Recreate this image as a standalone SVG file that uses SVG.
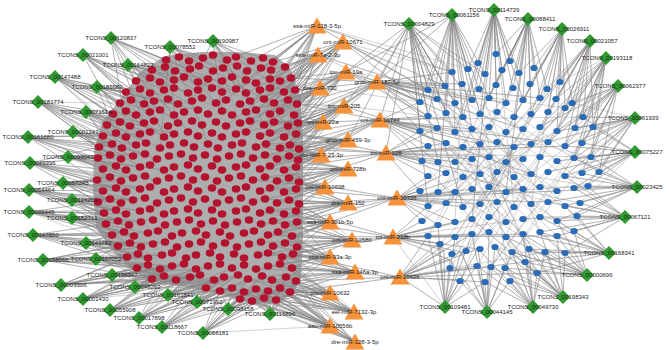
<svg xmlns="http://www.w3.org/2000/svg" xmlns:xlink="http://www.w3.org/1999/xlink" width="669" height="350" viewBox="0 0 669 350">
<style>
.e{fill:none;stroke:#858585;stroke-width:.5;stroke-linejoin:round;opacity:.75}
.l{font-family:"Liberation Sans",Arial,sans-serif;font-size:6px;fill:#222;text-anchor:middle}
</style>
<defs>
<polygon id="dm" points="0,-7 7,0 0,7 -7,0" fill="#2f9a2f"/>
<polygon id="tr" points="0,-8.5 9.5,7.5 -9.5,7.5" fill="#f6923b"/>
<ellipse id="rc" rx="4.3" ry="3.7" fill="#b3132e"/>
<ellipse id="bc" rx="3.7" ry="3.1" fill="#2b6cb6"/>
</defs>
<rect width="669" height="350" fill="#fff"/>
<path d="M120 100L140 72 165 56 200 52 240 52 275 55 290 68 300 95 303 140 303 190 303 240 301 278 292 296 265 304 238 300 212 292 180 286 152 282 132 270 112 250 96 228 93 190 94 150 102 122Z" fill="#adadad"/>
<g id="connectors">
<path class="e" d="M111 38L166 60 111 38 190 69 111 38 150 93 111 38 175 85 111 38 212 88 111 38 144 123 111 38 188 132 111 38 236 89 111 38 170 145 111 38 230 112 111 38 130 150 111 38 250 101"/>
<path class="e" d="M170 47L179 57 170 47 203 58 170 47 213 71 170 47 237 66 170 47 198 90 170 47 246 80 170 47 174 115 170 47 222 111 170 47 264 99 170 47 160 148 170 47 208 144 170 47 284 92"/>
<path class="e" d="M213 41L227 60 213 41 251 61 213 41 273 62 213 41 261 68 213 41 236 89 213 41 199 66 213 41 284 92 213 41 256 110 213 41 288 126 213 41 222 111 213 41 270 133 213 41 246 143"/>
<path class="e" d="M83 55L136 81 83 55 150 78 83 55 164 90 83 55 126 92 83 55 131 100 83 55 168 99 83 55 144 104 83 55 178 123 83 55 154 121 83 55 202 98 83 55 120 122 83 55 192 132"/>
<path class="e" d="M128 65L152 70 128 65 165 67 128 65 174 80 128 65 188 93 128 65 160 82 128 65 212 88 128 65 222 81 128 65 150 112 128 65 198 110 128 65 174 115 128 65 246 93 128 65 232 115"/>
<path class="e" d="M55 77L120 103 55 77 126 92 55 77 131 100 55 77 113 114 55 77 136 115 55 77 107 125 55 77 130 126 55 77 150 112 55 77 140 134 55 77 164 137 55 77 174 104 55 77 126 137"/>
<path class="e" d="M97 87L126 92 97 87 140 89 97 87 120 103 97 87 144 104 97 87 160 110 97 87 126 111 97 87 150 132 97 87 178 104 97 87 198 110 97 87 164 137 97 87 116 133 97 87 188 143"/>
<path class="e" d="M38 102L107 125 38 102 113 114 38 102 120 122 38 102 103 136 38 102 112 144 38 102 126 137 38 102 99 147 38 102 136 145 38 102 150 132 38 102 110 155 38 102 140 167 38 102 120 103"/>
<path class="e" d="M86 112L103 136 86 112 107 125 86 112 116 133 86 112 120 122 86 112 130 126 86 112 144 123 86 112 112 144 86 112 146 143 86 112 160 148 86 112 126 148 86 112 174 134 86 112 136 115"/>
<path class="e" d="M28 137L99 147 28 137 103 136 28 137 98 158 28 137 110 155 28 137 112 144 28 137 103 169 28 137 116 166 28 137 122 148 28 137 97 180 28 137 133 156 28 137 140 134 28 137 126 170"/>
<path class="e" d="M73 132L99 147 73 132 103 136 73 132 112 144 73 132 122 148 73 132 110 155 73 132 121 159 73 132 126 137 73 132 136 145 73 132 133 156 73 132 145 154 73 132 157 159 73 132 116 166"/>
<path class="e" d="M68 157L98 158 68 157 110 155 68 157 103 169 68 157 116 166 68 157 126 170 68 157 121 159 68 157 133 178 68 157 140 167 68 157 145 154 68 157 157 181 68 157 164 170 68 157 110 177"/>
<path class="e" d="M30 163L98 158 30 163 103 169 30 163 97 180 30 163 110 177 30 163 103 191 30 163 121 181 30 163 116 188 30 163 112 144 30 163 126 192 30 163 98 202 30 163 133 178 30 163 140 189"/>
<path class="e" d="M63 183L97 180 63 183 110 177 63 183 103 191 63 183 116 188 63 183 121 181 63 183 98 202 63 183 110 199 63 183 126 192 63 183 133 200 63 183 140 189 63 183 150 187 63 183 121 203"/>
<path class="e" d="M29 190L97 180 29 190 103 191 29 190 98 202 29 190 110 199 29 190 104 213 29 190 116 210 29 190 121 203 29 190 106 224 29 190 126 214 29 190 133 200 29 190 118 221 29 190 110 177"/>
<path class="e" d="M72 200L98 202 72 200 104 213 72 200 110 199 72 200 116 210 72 200 121 203 72 200 126 214 72 200 106 224 72 200 118 221 72 200 133 200 72 200 140 211 72 200 145 198 72 200 129 225"/>
<path class="e" d="M29 212L104 213 29 212 106 224 29 212 116 210 29 212 112 235 29 212 118 221 29 212 124 232 29 212 98 202 29 212 129 225 29 212 134 236 29 212 126 214 29 212 141 222 29 212 118 246"/>
<path class="e" d="M72 218L104 213 72 218 106 224 72 218 112 235 72 218 118 221 72 218 124 232 72 218 129 225 72 218 134 236 72 218 141 222 72 218 118 246 72 218 130 243 72 218 148 233 72 218 153 220"/>
<path class="e" d="M33 235L112 235 33 235 118 246 33 235 124 232 33 235 127 257 33 235 130 243 33 235 134 236 33 235 138 254 33 235 106 224 33 235 141 247 33 235 148 233 33 235 137 268 33 235 153 244"/>
<path class="e" d="M86 243L112 235 86 243 118 246 86 243 124 232 86 243 127 257 86 243 130 243 86 243 138 254 86 243 141 247 86 243 148 258 86 243 153 244 86 243 137 268 86 243 165 242 86 243 162 255"/>
<path class="e" d="M43 260L118 246 43 260 127 257 43 260 130 243 43 260 137 268 43 260 138 254 43 260 148 265 43 260 141 247 43 260 148 258 43 260 160 269 43 260 152 279 43 260 162 255 43 260 172 266"/>
<path class="e" d="M96 259L118 246 96 259 127 257 96 259 138 254 96 259 137 268 96 259 148 265 96 259 148 258 96 259 160 269 96 259 152 279 96 259 162 255 96 259 172 266 96 259 164 276 96 259 176 280"/>
<path class="e" d="M112 275L137 268 112 275 148 265 112 275 152 279 112 275 160 269 112 275 164 276 112 275 172 266 112 275 176 280 112 275 184 264 112 275 190 277 112 275 196 269 112 275 200 275 112 275 162 255"/>
<path class="e" d="M61 285L137 268 61 285 148 265 61 285 152 279 61 285 160 269 61 285 164 276 61 285 176 280 61 285 172 266 61 285 190 277 61 285 184 264 61 285 127 257 61 285 138 254 61 285 200 275"/>
<path class="e" d="M135 287L152 279 135 287 164 276 135 287 176 280 135 287 190 277 135 287 200 275 135 287 214 280 135 287 172 266 135 287 196 269 135 287 208 266 135 287 224 277 135 287 184 264 135 287 206 288"/>
<path class="e" d="M168 295L176 280 168 295 190 277 168 295 200 275 168 295 214 280 168 295 206 288 168 295 220 291 168 295 224 277 168 295 238 275 168 295 208 266 168 295 232 268 168 295 232 288 168 295 196 269"/>
<path class="e" d="M83 299L152 279 83 299 164 276 83 299 176 280 83 299 160 269 83 299 190 277 83 299 148 265 83 299 200 275 83 299 137 268 83 299 172 266 83 299 214 280 83 299 184 264 83 299 206 288"/>
<path class="e" d="M197 302L206 288 197 302 220 291 197 302 214 280 197 302 224 277 197 302 232 288 197 302 238 275 197 302 244 292 197 302 248 279 197 302 200 275 197 302 190 277 197 302 256 289 197 302 262 276"/>
<path class="e" d="M110 310L152 279 110 310 164 276 110 310 176 280 110 310 190 277 110 310 200 275 110 310 214 280 110 310 206 288 110 310 220 291 110 310 160 269 110 310 172 266 110 310 224 277 110 310 232 288"/>
<path class="e" d="M139 318L176 280 139 318 190 277 139 318 200 275 139 318 206 288 139 318 214 280 139 318 220 291 139 318 224 277 139 318 232 288 139 318 244 292 139 318 164 276 139 318 238 275 139 318 256 289"/>
<path class="e" d="M162 327L206 288 162 327 214 280 162 327 220 291 162 327 232 288 162 327 244 292 162 327 238 275 162 327 248 279 162 327 256 289 162 327 224 277 162 327 264 298 162 327 200 275 162 327 268 291"/>
<path class="e" d="M203 333L220 291 203 333 232 288 203 333 244 292 203 333 256 289 203 333 240 299 203 333 252 301 203 333 264 298 203 333 268 291 203 333 276 300 203 333 248 279 203 333 262 276 203 333 280 288 203 333 330 326"/>
<path class="e" d="M228 309L240 299 228 309 252 301 228 309 244 292 228 309 256 289 228 309 264 298 228 309 232 288 228 309 220 291 228 309 268 291 228 309 248 279 228 309 276 300 228 309 262 276 228 309 280 288"/>
<path class="e" d="M270 314L252 301 270 314 264 298 270 314 276 300 270 314 268 291 270 314 280 288 270 314 290 292 270 314 256 289 270 314 244 292 270 314 286 277 270 314 272 280 270 314 296 281 270 314 262 276"/>
<path class="e" d="M317 26L273 62 317 26 251 61 317 26 285 67 317 26 261 68 317 26 291 78 317 26 246 80 317 26 270 88 317 26 295 90 317 26 236 89 317 26 264 99 317 26 288 100 317 26 226 100 317 26 274 103 317 26 246 112 317 26 280 111 317 26 227 60 317 26 452 72 317 26 428 90 317 26 468 69"/>
<path class="e" d="M343 42L273 62 343 42 285 67 343 42 291 78 343 42 270 79 343 42 295 90 343 42 284 92 343 42 297 104 343 42 288 100 343 42 264 99 343 42 280 111 343 42 294 115 343 42 270 114 343 42 256 110 343 42 246 93 343 42 298 123 343 42 240 123 343 42 428 90 343 42 445 86 343 42 420 102 343 42 452 72"/>
<path class="e" d="M318 55L285 67 318 55 271 70 318 55 280 81 318 55 291 78 318 55 284 92 318 55 295 90 318 55 274 103 318 55 297 104 318 55 264 99 318 55 280 111 318 55 288 126 318 55 260 115 318 55 250 101 318 55 236 89 318 55 246 132 318 55 226 126 318 55 428 90 318 55 420 102"/>
<path class="e" d="M346 72L291 78 346 72 295 90 346 72 297 104 346 72 294 115 346 72 298 123 346 72 288 126 346 72 296 134 346 72 284 137 346 72 270 114 346 72 280 111 346 72 260 125 346 72 250 121 346 72 240 104 346 72 274 103 346 72 284 148 346 72 264 125 346 72 420 102 346 72 428 116 346 72 437 99 346 72 445 86"/>
<path class="e" d="M320 88L295 90 320 88 297 104 320 88 294 115 320 88 288 100 320 88 298 123 320 88 284 92 320 88 280 111 320 88 270 114 320 88 274 122 320 88 264 125 320 88 288 126 320 88 256 110 320 88 246 112 320 88 260 136 320 88 240 123 320 88 283 137 320 88 420 102"/>
<path class="e" d="M377 82L297 104 377 82 298 123 377 82 296 134 377 82 294 115 377 82 295 90 377 82 291 78 377 82 299 149 377 82 290 145 377 82 280 148 377 82 270 133 377 82 428 90 377 82 445 86 377 82 420 102 377 82 437 99 377 82 428 116 377 82 455 103 377 82 420 131 377 82 462 84 377 82 472 100 377 82 446 113 377 82 437 128 377 82 452 72 377 82 506 103 377 82 540 98 377 82 523 129 377 82 565 108"/>
<path class="e" d="M344 106L298 123 344 106 296 134 344 106 299 149 344 106 290 145 344 106 294 115 344 106 297 104 344 106 288 126 344 106 284 137 344 106 280 148 344 106 270 133 344 106 266 144 344 106 298 160 344 106 289 156 344 106 260 136 344 106 256 147 344 106 246 132 344 106 420 131 344 106 428 116"/>
<path class="e" d="M380 120L298 123 380 120 296 134 380 120 299 149 380 120 298 160 380 120 290 145 380 120 297 104 380 120 289 156 380 120 296 167 380 120 420 131 380 120 428 116 380 120 437 128 380 120 420 102 380 120 446 143 380 120 428 146 380 120 455 132 380 120 463 117 380 120 438 162 380 120 472 129 380 120 422 161 380 120 480 144 380 120 514 147 380 120 548 142 380 120 531 174 380 120 583 117"/>
<path class="e" d="M323 122L298 123 323 122 296 134 323 122 288 126 323 122 294 115 323 122 284 137 323 122 290 145 323 122 299 149 323 122 274 122 323 122 270 133 323 122 280 148 323 122 264 125 323 122 260 136 323 122 298 160 323 122 289 156 323 122 250 121 323 122 240 123"/>
<path class="e" d="M348 140L296 134 348 140 299 149 348 140 298 160 348 140 290 145 348 140 289 156 348 140 296 167 348 140 299 182 348 140 284 137 348 140 280 148 348 140 277 159 348 140 284 170 348 140 270 133 348 140 266 144 348 140 265 155 348 140 260 169 348 140 289 178"/>
<path class="e" d="M321 155L299 149 321 155 298 160 321 155 290 145 321 155 289 156 321 155 296 167 321 155 280 148 321 155 277 159 321 155 284 170 321 155 266 144 321 155 265 155 321 155 299 182 321 155 270 166 321 155 289 178 321 155 256 147 321 155 253 158 321 155 260 169"/>
<path class="e" d="M386 153L299 149 386 153 298 160 386 153 296 167 386 153 299 182 386 153 290 145 386 153 296 134 386 153 420 131 386 153 428 146 386 153 422 161 386 153 438 162 386 153 437 128 386 153 446 143 386 153 428 176 386 153 455 162 386 153 420 191 386 153 463 147 386 153 472 159 386 153 446 173 386 153 489 157 386 153 480 174 386 153 531 144 386 153 565 146 386 153 591 157"/>
<path class="e" d="M348 169L298 160 348 169 296 167 348 169 299 182 348 169 296 189 348 169 289 178 348 169 284 170 348 169 289 156 348 169 299 204 348 169 289 200 348 169 277 181 348 169 277 159 348 169 270 188 348 169 265 177 348 169 284 192 348 169 260 169 348 169 253 180"/>
<path class="e" d="M325 187L299 182 325 187 296 189 325 187 289 178 325 187 284 192 325 187 299 204 325 187 289 200 325 187 296 167 325 187 277 181 325 187 270 188 325 187 277 203 325 187 296 211 325 187 265 199 325 187 284 170 325 187 260 191 325 187 253 180 325 187 265 177"/>
<path class="e" d="M348 203L299 204 348 203 296 211 348 203 289 200 348 203 296 189 348 203 299 182 348 203 297 222 348 203 284 214 348 203 285 225 348 203 277 203 348 203 270 210 348 203 284 192 348 203 273 221 348 203 260 213 348 203 265 199 348 203 289 178 348 203 261 224"/>
<path class="e" d="M397 198L299 204 397 198 296 211 397 198 299 182 397 198 296 189 397 198 297 222 397 198 292 236 397 198 420 191 397 198 428 176 397 198 438 192 397 198 428 206 397 198 422 221 397 198 446 203 397 198 455 192 397 198 446 173 397 198 463 207 397 198 438 225 397 198 472 189 397 198 455 222 397 198 480 204 397 198 463 177 397 198 523 189 397 198 557 191 397 198 548 202 397 198 587 186"/>
<path class="e" d="M330 222L297 222 330 222 296 211 330 222 299 204 330 222 292 236 330 222 285 225 330 222 284 214 330 222 297 247 330 222 278 232 330 222 273 221 330 222 270 210 330 222 285 243 330 222 268 235 330 222 289 200 330 222 261 224 330 222 273 246 330 222 260 213"/>
<path class="e" d="M352 240L297 247 352 240 292 236 352 240 297 222 352 240 285 243 352 240 293 254 352 240 296 211 352 240 278 232 352 240 282 257 352 240 273 246 352 240 268 235 352 240 285 225 352 240 292 268 352 240 261 242 352 240 258 255 352 240 273 221 352 240 296 189"/>
<path class="e" d="M393 237L297 247 393 237 292 236 393 237 297 222 393 237 293 254 393 237 296 211 393 237 428 236 393 237 438 243 393 237 422 221 393 237 438 225 393 237 455 237 393 237 444 250 393 237 455 222 393 237 461 252 393 237 472 234 393 237 450 260 393 237 428 206 393 237 472 219 393 237 478 249 393 237 523 234 393 237 557 236 393 237 540 217"/>
<path class="e" d="M330 257L293 254 330 257 297 247 330 257 292 268 330 257 282 257 330 257 285 243 330 257 296 281 330 257 292 236 330 257 280 264 330 257 268 266 330 257 273 246 330 257 286 277 330 257 258 255 330 257 268 253 330 257 278 232 330 257 297 222 330 257 256 269"/>
<path class="e" d="M355 272L292 268 355 272 296 281 355 272 293 254 355 272 286 277 355 272 297 247 355 272 282 257 355 272 290 292 355 272 280 264 355 272 272 280 355 272 280 288 355 272 268 266 355 272 285 243 355 272 262 276 355 272 268 253 355 272 256 269 355 272 292 236"/>
<path class="e" d="M400 277L296 281 400 277 292 268 400 277 290 292 400 277 293 254 400 277 428 236 400 277 438 243 400 277 444 250 400 277 450 260 400 277 461 252 400 277 460 280 400 277 477 266 400 277 478 249 400 277 485 282 400 277 490 267 400 277 455 237 400 277 472 234 400 277 537 273 400 277 525 262 400 277 545 252"/>
<path class="e" d="M330 293L290 292 330 293 296 281 330 293 280 288 330 293 286 277 330 293 292 268 330 293 276 300 330 293 272 280 330 293 268 291 330 293 264 298 330 293 280 264 330 293 262 276 330 293 256 289 330 293 282 257 330 293 248 279 330 293 244 292 330 293 293 254"/>
<path class="e" d="M354 312L290 292 354 312 296 281 354 312 280 288 354 312 276 300 354 312 286 277 354 312 268 291 354 312 264 298 354 312 292 268 354 312 272 280 354 312 256 289 354 312 262 276 354 312 252 301 354 312 244 292 354 312 280 264 354 312 248 279 354 312 293 254"/>
<path class="e" d="M330 326L276 300 330 326 290 292 330 326 264 298 330 326 280 288 330 326 252 301 330 326 268 291 330 326 296 281 330 326 256 289 330 326 240 299 330 326 244 292 330 326 272 280 330 326 286 277 330 326 232 288 330 326 262 276 330 326 220 291 330 326 248 279"/>
<path class="e" d="M355 342L276 300 355 342 290 292 355 342 264 298 355 342 280 288 355 342 252 301 355 342 268 291 355 342 296 281 355 342 256 289 355 342 240 299 355 342 286 277 355 342 272 280 355 342 244 292"/>
<path class="e" d="M409 24L377 82 409 24 346 72 409 24 344 106 409 24 380 120 409 24 348 140 409 24 386 153 409 24 428 90 409 24 445 86 409 24 452 72 409 24 468 69 409 24 420 102 409 24 437 99 409 24 455 103 409 24 428 116 409 24 446 113 409 24 463 117 409 24 420 131 409 24 472 100 409 24 485 74 409 24 438 162 409 24 455 132 409 24 428 206 409 24 463 207 409 24 489 187"/>
<path class="e" d="M452 15L452 72 452 15 468 69 452 15 485 74 452 15 445 86 452 15 462 84 452 15 479 89 452 15 428 90 452 15 437 99 452 15 455 103 452 15 472 100 452 15 489 98 452 15 446 113 452 15 463 117 452 15 480 114 452 15 428 116 452 15 455 132 452 15 472 129 452 15 420 102 452 15 377 82 452 15 346 72 452 15 438 192 452 15 497 172"/>
<path class="e" d="M494 10L478 63 494 10 496 54 494 10 510 61 494 10 468 69 494 10 485 74 494 10 502 70 494 10 519 73 494 10 479 89 494 10 496 85 494 10 513 88 494 10 472 100 494 10 489 98 494 10 506 103 494 10 480 114 494 10 497 112 494 10 463 117 494 10 523 100 494 10 455 132 494 10 472 219 494 10 514 207"/>
<path class="e" d="M528 19L510 61 528 19 496 54 528 19 519 73 528 19 534 68 528 19 502 70 528 19 513 88 528 19 530 84 528 19 547 89 528 19 496 85 528 19 506 103 528 19 523 100 528 19 540 98 528 19 514 117 528 19 489 98 528 19 531 114 528 19 480 114 528 19 506 192 528 19 455 162"/>
<path class="e" d="M562 29L534 68 562 29 519 73 562 29 530 84 562 29 547 89 562 29 560 82 562 29 540 98 562 29 556 99 562 29 572 103 562 29 523 100 562 29 548 112 562 29 565 108 562 29 531 114 562 29 514 117 562 29 557 131 562 29 506 132 562 29 531 204"/>
<path class="e" d="M590 41L560 82 590 41 547 89 590 41 556 99 590 41 572 103 590 41 565 108 590 41 583 117 590 41 548 112 590 41 575 128 590 41 557 131 590 41 593 127 590 41 540 127 590 41 531 114 590 41 523 129 590 41 565 146 590 41 514 177"/>
<path class="e" d="M606 58L572 103 606 58 583 117 606 58 565 108 606 58 593 127 606 58 575 128 606 58 556 99 606 58 557 131 606 58 582 143 606 58 565 146 606 58 548 142 606 58 540 127 606 58 591 157 606 58 574 158 606 58 560 82"/>
<path class="e" d="M618 86L583 117 618 86 593 127 618 86 575 128 618 86 572 103 618 86 582 143 618 86 565 146 618 86 591 157 618 86 574 158 618 86 557 131 618 86 599 172 618 86 582 173 618 86 548 142 618 86 540 127 618 86 565 108"/>
<path class="e" d="M635 118L593 127 635 118 583 117 635 118 575 128 635 118 582 143 635 118 591 157 635 118 574 158 635 118 599 172 635 118 565 146 635 118 582 173 635 118 557 131 635 118 587 186 635 118 565 176 635 118 548 142 635 118 572 103"/>
<path class="e" d="M635 152L591 157 635 152 599 172 635 152 582 143 635 152 574 158 635 152 582 173 635 152 593 127 635 152 587 186 635 152 565 146 635 152 565 176 635 152 557 161 635 152 574 188 635 152 548 172 635 152 583 117 635 152 580 203"/>
<path class="e" d="M637 187L587 186 637 187 599 172 637 187 574 188 637 187 582 173 637 187 580 203 637 187 591 157 637 187 565 176 637 187 565 206 637 187 557 191 637 187 577 216 637 187 548 202 637 187 557 221 637 187 574 158 637 187 540 187"/>
<path class="e" d="M625 217L577 216 625 217 580 203 625 217 587 186 625 217 574 188 625 217 565 206 625 217 557 221 625 217 574 231 625 217 557 236 625 217 548 202 625 217 565 176 625 217 540 217 625 217 540 232 625 217 565 253 625 217 523 219"/>
<path class="e" d="M609 253L574 231 609 253 565 253 609 253 577 216 609 253 557 236 609 253 545 252 609 253 557 221 609 253 540 232 609 253 529 249 609 253 565 206 609 253 540 217 609 253 523 234 609 253 537 273 609 253 525 262 609 253 512 252"/>
<path class="e" d="M587 275L565 253 587 275 545 252 587 275 574 231 587 275 537 273 587 275 557 236 587 275 529 249 587 275 525 262 587 275 540 232 587 275 512 252 587 275 523 234 587 275 505 268 587 275 506 237 587 275 557 221 587 275 495 247"/>
<path class="e" d="M563 297L537 273 563 297 545 252 563 297 525 262 563 297 529 249 563 297 565 253 563 297 512 252 563 297 505 268 563 297 510 281 563 297 540 232 563 297 495 247 563 297 523 234 563 297 490 267 563 297 557 236 563 297 506 237 563 297 472 219 563 297 455 192"/>
<path class="e" d="M533 307L510 281 533 307 525 262 533 307 505 268 533 307 537 273 533 307 512 252 533 307 529 249 533 307 490 267 533 307 495 247 533 307 485 282 533 307 545 252 533 307 477 266 533 307 523 234 533 307 478 249 533 307 506 237"/>
<path class="e" d="M487 312L485 282 487 312 490 267 487 312 477 266 487 312 460 280 487 312 505 268 487 312 478 249 487 312 495 247 487 312 510 281 487 312 461 252 487 312 450 260 487 312 512 252 487 312 472 234 487 312 489 232 487 312 455 237"/>
<path class="e" d="M445 307L450 260 445 307 460 280 445 307 444 250 445 307 461 252 445 307 438 243 445 307 477 266 445 307 428 236 445 307 455 237 445 307 478 249 445 307 485 282 445 307 472 234 445 307 438 225 445 307 400 277 445 307 393 237"/>
<path class="e" d="M428 90L523 189M445 86L565 206M462 84L455 222M479 89L540 232M513 88L438 225M547 89L472 234M420 102L577 216M437 99L506 237M472 100L599 172M506 103L428 206M540 98L446 203M572 103L463 207M428 116L591 157M463 117L529 249M497 112L422 221M531 114L455 237M565 108L480 204M583 117L438 192M420 131L574 231M455 132L557 221M489 127L428 236M523 129L450 268M557 131L477 266M593 127L491 267M446 143L565 253M480 144L537 273M514 147L460 281M548 142L485 282M582 143L505 268M422 161L548 202M455 162L587 186M489 157L510 281M523 159L440 244M557 161L466 251M591 157L512 252M428 176L545 252M463 177L580 203M497 172L452 254M531 174L428 90M565 176L445 86M599 172L479 89M420 191L513 88M455 192L547 89M489 187L572 103M523 189L463 117M557 191L437 99M587 186L497 112M446 203L565 108M480 204L531 114M514 207L420 131M548 202L489 127M422 221L557 131M472 219L593 127M506 222L446 143M540 217L480 144M455 237L514 147M489 232L582 143M523 234L428 146M557 236L463 147M466 251L548 142M495 247L422 161M529 249L472 159M450 268L540 157M491 267L574 158M525 262L455 162"/>
</g>
<g id="targets-left">
<use href="#rc" x="166" y="60"/><use href="#rc" x="179" y="57"/><use href="#rc" x="189" y="61"/><use href="#rc" x="203" y="58"/><use href="#rc" x="213" y="55"/><use href="#rc" x="227" y="60"/><use href="#rc" x="236" y="57"/><use href="#rc" x="251" y="61"/><use href="#rc" x="263" y="58"/><use href="#rc" x="273" y="62"/>
<use href="#rc" x="152" y="70"/><use href="#rc" x="165" y="67"/><use href="#rc" x="175" y="71"/><use href="#rc" x="190" y="69"/><use href="#rc" x="199" y="66"/><use href="#rc" x="213" y="71"/><use href="#rc" x="223" y="68"/><use href="#rc" x="237" y="66"/><use href="#rc" x="247" y="71"/><use href="#rc" x="261" y="68"/><use href="#rc" x="271" y="70"/><use href="#rc" x="285" y="67"/>
<use href="#rc" x="136" y="81"/><use href="#rc" x="150" y="78"/><use href="#rc" x="160" y="82"/><use href="#rc" x="174" y="80"/><use href="#rc" x="184" y="77"/><use href="#rc" x="198" y="82"/><use href="#rc" x="208" y="79"/><use href="#rc" x="222" y="81"/><use href="#rc" x="232" y="77"/><use href="#rc" x="246" y="80"/><use href="#rc" x="256" y="83"/><use href="#rc" x="270" y="79"/><use href="#rc" x="280" y="81"/><use href="#rc" x="291" y="78"/>
<use href="#rc" x="126" y="92"/><use href="#rc" x="140" y="89"/><use href="#rc" x="150" y="93"/><use href="#rc" x="164" y="90"/><use href="#rc" x="174" y="88"/><use href="#rc" x="188" y="93"/><use href="#rc" x="198" y="90"/><use href="#rc" x="212" y="88"/><use href="#rc" x="222" y="92"/><use href="#rc" x="236" y="89"/><use href="#rc" x="246" y="93"/><use href="#rc" x="260" y="90"/><use href="#rc" x="270" y="88"/><use href="#rc" x="284" y="92"/><use href="#rc" x="295" y="90"/>
<use href="#rc" x="120" y="103"/><use href="#rc" x="131" y="100"/><use href="#rc" x="144" y="104"/><use href="#rc" x="154" y="101"/><use href="#rc" x="168" y="99"/><use href="#rc" x="178" y="104"/><use href="#rc" x="192" y="101"/><use href="#rc" x="202" y="98"/><use href="#rc" x="216" y="103"/><use href="#rc" x="226" y="100"/><use href="#rc" x="240" y="104"/><use href="#rc" x="250" y="101"/><use href="#rc" x="264" y="99"/><use href="#rc" x="274" y="103"/><use href="#rc" x="288" y="100"/><use href="#rc" x="297" y="104"/>
<use href="#rc" x="113" y="114"/><use href="#rc" x="126" y="111"/><use href="#rc" x="136" y="115"/><use href="#rc" x="150" y="112"/><use href="#rc" x="160" y="110"/><use href="#rc" x="174" y="115"/><use href="#rc" x="184" y="112"/><use href="#rc" x="198" y="110"/><use href="#rc" x="208" y="114"/><use href="#rc" x="222" y="111"/><use href="#rc" x="232" y="115"/><use href="#rc" x="246" y="112"/><use href="#rc" x="256" y="110"/><use href="#rc" x="270" y="114"/><use href="#rc" x="280" y="111"/><use href="#rc" x="294" y="115"/>
<use href="#rc" x="107" y="125"/><use href="#rc" x="120" y="122"/><use href="#rc" x="130" y="126"/><use href="#rc" x="144" y="123"/><use href="#rc" x="154" y="121"/><use href="#rc" x="168" y="126"/><use href="#rc" x="178" y="123"/><use href="#rc" x="192" y="121"/><use href="#rc" x="202" y="125"/><use href="#rc" x="216" y="122"/><use href="#rc" x="226" y="126"/><use href="#rc" x="240" y="123"/><use href="#rc" x="250" y="121"/><use href="#rc" x="264" y="125"/><use href="#rc" x="274" y="122"/><use href="#rc" x="288" y="126"/><use href="#rc" x="298" y="123"/>
<use href="#rc" x="103" y="136"/><use href="#rc" x="116" y="133"/><use href="#rc" x="126" y="137"/><use href="#rc" x="140" y="134"/><use href="#rc" x="150" y="132"/><use href="#rc" x="164" y="137"/><use href="#rc" x="174" y="134"/><use href="#rc" x="188" y="132"/><use href="#rc" x="198" y="136"/><use href="#rc" x="212" y="133"/><use href="#rc" x="222" y="137"/><use href="#rc" x="236" y="134"/><use href="#rc" x="246" y="132"/><use href="#rc" x="260" y="136"/><use href="#rc" x="270" y="133"/><use href="#rc" x="284" y="137"/><use href="#rc" x="296" y="134"/>
<use href="#rc" x="99" y="147"/><use href="#rc" x="112" y="144"/><use href="#rc" x="122" y="148"/><use href="#rc" x="136" y="145"/><use href="#rc" x="146" y="143"/><use href="#rc" x="160" y="148"/><use href="#rc" x="170" y="145"/><use href="#rc" x="184" y="143"/><use href="#rc" x="194" y="147"/><use href="#rc" x="208" y="144"/><use href="#rc" x="218" y="148"/><use href="#rc" x="232" y="145"/><use href="#rc" x="242" y="143"/><use href="#rc" x="256" y="147"/><use href="#rc" x="266" y="144"/><use href="#rc" x="280" y="148"/><use href="#rc" x="290" y="145"/><use href="#rc" x="299" y="149"/>
<use href="#rc" x="98" y="158"/><use href="#rc" x="110" y="155"/><use href="#rc" x="121" y="159"/><use href="#rc" x="133" y="156"/><use href="#rc" x="145" y="154"/><use href="#rc" x="157" y="159"/><use href="#rc" x="169" y="156"/><use href="#rc" x="181" y="154"/><use href="#rc" x="193" y="158"/><use href="#rc" x="205" y="155"/><use href="#rc" x="217" y="159"/><use href="#rc" x="229" y="156"/><use href="#rc" x="241" y="154"/><use href="#rc" x="253" y="158"/><use href="#rc" x="265" y="155"/><use href="#rc" x="277" y="159"/><use href="#rc" x="289" y="156"/><use href="#rc" x="298" y="160"/>
<use href="#rc" x="103" y="169"/><use href="#rc" x="116" y="166"/><use href="#rc" x="126" y="170"/><use href="#rc" x="140" y="167"/><use href="#rc" x="150" y="165"/><use href="#rc" x="164" y="170"/><use href="#rc" x="174" y="167"/><use href="#rc" x="188" y="165"/><use href="#rc" x="198" y="169"/><use href="#rc" x="212" y="166"/><use href="#rc" x="222" y="170"/><use href="#rc" x="236" y="167"/><use href="#rc" x="246" y="165"/><use href="#rc" x="260" y="169"/><use href="#rc" x="270" y="166"/><use href="#rc" x="284" y="170"/><use href="#rc" x="296" y="167"/>
<use href="#rc" x="97" y="180"/><use href="#rc" x="110" y="177"/><use href="#rc" x="121" y="181"/><use href="#rc" x="133" y="178"/><use href="#rc" x="145" y="176"/><use href="#rc" x="157" y="181"/><use href="#rc" x="169" y="178"/><use href="#rc" x="181" y="176"/><use href="#rc" x="193" y="180"/><use href="#rc" x="205" y="177"/><use href="#rc" x="217" y="181"/><use href="#rc" x="229" y="178"/><use href="#rc" x="241" y="176"/><use href="#rc" x="253" y="180"/><use href="#rc" x="265" y="177"/><use href="#rc" x="277" y="181"/><use href="#rc" x="289" y="178"/><use href="#rc" x="299" y="182"/>
<use href="#rc" x="103" y="191"/><use href="#rc" x="116" y="188"/><use href="#rc" x="126" y="192"/><use href="#rc" x="140" y="189"/><use href="#rc" x="150" y="187"/><use href="#rc" x="164" y="192"/><use href="#rc" x="174" y="189"/><use href="#rc" x="188" y="187"/><use href="#rc" x="198" y="191"/><use href="#rc" x="212" y="188"/><use href="#rc" x="222" y="192"/><use href="#rc" x="236" y="189"/><use href="#rc" x="246" y="187"/><use href="#rc" x="260" y="191"/><use href="#rc" x="270" y="188"/><use href="#rc" x="284" y="192"/><use href="#rc" x="296" y="189"/>
<use href="#rc" x="98" y="202"/><use href="#rc" x="110" y="199"/><use href="#rc" x="121" y="203"/><use href="#rc" x="133" y="200"/><use href="#rc" x="145" y="198"/><use href="#rc" x="157" y="203"/><use href="#rc" x="169" y="200"/><use href="#rc" x="181" y="198"/><use href="#rc" x="193" y="202"/><use href="#rc" x="205" y="199"/><use href="#rc" x="217" y="203"/><use href="#rc" x="229" y="200"/><use href="#rc" x="241" y="198"/><use href="#rc" x="253" y="202"/><use href="#rc" x="265" y="199"/><use href="#rc" x="277" y="203"/><use href="#rc" x="289" y="200"/><use href="#rc" x="299" y="204"/>
<use href="#rc" x="104" y="213"/><use href="#rc" x="116" y="210"/><use href="#rc" x="126" y="214"/><use href="#rc" x="140" y="211"/><use href="#rc" x="150" y="209"/><use href="#rc" x="164" y="214"/><use href="#rc" x="174" y="211"/><use href="#rc" x="188" y="209"/><use href="#rc" x="198" y="213"/><use href="#rc" x="212" y="210"/><use href="#rc" x="222" y="214"/><use href="#rc" x="236" y="211"/><use href="#rc" x="246" y="209"/><use href="#rc" x="260" y="213"/><use href="#rc" x="270" y="210"/><use href="#rc" x="284" y="214"/><use href="#rc" x="296" y="211"/>
<use href="#rc" x="106" y="224"/><use href="#rc" x="118" y="221"/><use href="#rc" x="129" y="225"/><use href="#rc" x="141" y="222"/><use href="#rc" x="153" y="220"/><use href="#rc" x="165" y="225"/><use href="#rc" x="177" y="222"/><use href="#rc" x="189" y="220"/><use href="#rc" x="201" y="224"/><use href="#rc" x="213" y="221"/><use href="#rc" x="225" y="225"/><use href="#rc" x="237" y="222"/><use href="#rc" x="249" y="220"/><use href="#rc" x="261" y="224"/><use href="#rc" x="273" y="221"/><use href="#rc" x="285" y="225"/><use href="#rc" x="297" y="222"/>
<use href="#rc" x="112" y="235"/><use href="#rc" x="124" y="232"/><use href="#rc" x="134" y="236"/><use href="#rc" x="148" y="233"/><use href="#rc" x="158" y="231"/><use href="#rc" x="172" y="236"/><use href="#rc" x="182" y="233"/><use href="#rc" x="196" y="231"/><use href="#rc" x="206" y="235"/><use href="#rc" x="220" y="232"/><use href="#rc" x="230" y="236"/><use href="#rc" x="244" y="233"/><use href="#rc" x="254" y="231"/><use href="#rc" x="268" y="235"/><use href="#rc" x="278" y="232"/><use href="#rc" x="292" y="236"/>
<use href="#rc" x="118" y="246"/><use href="#rc" x="130" y="243"/><use href="#rc" x="141" y="247"/><use href="#rc" x="153" y="244"/><use href="#rc" x="165" y="242"/><use href="#rc" x="177" y="247"/><use href="#rc" x="189" y="244"/><use href="#rc" x="201" y="242"/><use href="#rc" x="213" y="246"/><use href="#rc" x="225" y="243"/><use href="#rc" x="237" y="247"/><use href="#rc" x="249" y="244"/><use href="#rc" x="261" y="242"/><use href="#rc" x="273" y="246"/><use href="#rc" x="285" y="243"/><use href="#rc" x="297" y="247"/>
<use href="#rc" x="127" y="257"/><use href="#rc" x="138" y="254"/><use href="#rc" x="148" y="258"/><use href="#rc" x="162" y="255"/><use href="#rc" x="172" y="253"/><use href="#rc" x="186" y="258"/><use href="#rc" x="196" y="255"/><use href="#rc" x="210" y="253"/><use href="#rc" x="220" y="257"/><use href="#rc" x="234" y="254"/><use href="#rc" x="244" y="258"/><use href="#rc" x="258" y="255"/><use href="#rc" x="268" y="253"/><use href="#rc" x="282" y="257"/><use href="#rc" x="293" y="254"/>
<use href="#rc" x="137" y="268"/><use href="#rc" x="148" y="265"/><use href="#rc" x="160" y="269"/><use href="#rc" x="172" y="266"/><use href="#rc" x="184" y="264"/><use href="#rc" x="196" y="269"/><use href="#rc" x="208" y="266"/><use href="#rc" x="220" y="264"/><use href="#rc" x="232" y="268"/><use href="#rc" x="244" y="265"/><use href="#rc" x="256" y="269"/><use href="#rc" x="268" y="266"/><use href="#rc" x="280" y="264"/><use href="#rc" x="292" y="268"/>
<use href="#rc" x="152" y="279"/><use href="#rc" x="164" y="276"/><use href="#rc" x="176" y="280"/><use href="#rc" x="190" y="277"/><use href="#rc" x="200" y="275"/><use href="#rc" x="214" y="280"/><use href="#rc" x="224" y="277"/><use href="#rc" x="238" y="275"/><use href="#rc" x="248" y="279"/><use href="#rc" x="262" y="276"/><use href="#rc" x="272" y="280"/><use href="#rc" x="286" y="277"/><use href="#rc" x="296" y="281"/>
<use href="#rc" x="206" y="288"/><use href="#rc" x="220" y="291"/><use href="#rc" x="232" y="288"/><use href="#rc" x="244" y="292"/><use href="#rc" x="256" y="289"/><use href="#rc" x="268" y="291"/><use href="#rc" x="280" y="288"/><use href="#rc" x="290" y="292"/>
<use href="#rc" x="240" y="299"/><use href="#rc" x="252" y="301"/><use href="#rc" x="264" y="298"/><use href="#rc" x="276" y="300"/>
</g>
<g id="targets-right">
<use href="#bc" x="478" y="63"/><use href="#bc" x="496" y="54"/><use href="#bc" x="510" y="61"/>
<use href="#bc" x="452" y="72"/><use href="#bc" x="468" y="69"/><use href="#bc" x="485" y="74"/><use href="#bc" x="502" y="70"/><use href="#bc" x="519" y="73"/><use href="#bc" x="534" y="68"/>
<use href="#bc" x="428" y="90"/><use href="#bc" x="445" y="86"/><use href="#bc" x="462" y="84"/><use href="#bc" x="479" y="89"/><use href="#bc" x="496" y="85"/><use href="#bc" x="513" y="88"/><use href="#bc" x="530" y="84"/><use href="#bc" x="547" y="89"/><use href="#bc" x="560" y="82"/>
<use href="#bc" x="420" y="102"/><use href="#bc" x="437" y="99"/><use href="#bc" x="455" y="103"/><use href="#bc" x="472" y="100"/><use href="#bc" x="489" y="98"/><use href="#bc" x="506" y="103"/><use href="#bc" x="523" y="100"/><use href="#bc" x="540" y="98"/><use href="#bc" x="556" y="99"/><use href="#bc" x="572" y="103"/>
<use href="#bc" x="428" y="116"/><use href="#bc" x="446" y="113"/><use href="#bc" x="463" y="117"/><use href="#bc" x="480" y="114"/><use href="#bc" x="497" y="112"/><use href="#bc" x="514" y="117"/><use href="#bc" x="531" y="114"/><use href="#bc" x="548" y="112"/><use href="#bc" x="565" y="108"/><use href="#bc" x="583" y="117"/>
<use href="#bc" x="420" y="131"/><use href="#bc" x="437" y="128"/><use href="#bc" x="455" y="132"/><use href="#bc" x="472" y="129"/><use href="#bc" x="489" y="127"/><use href="#bc" x="506" y="132"/><use href="#bc" x="523" y="129"/><use href="#bc" x="540" y="127"/><use href="#bc" x="557" y="131"/><use href="#bc" x="575" y="128"/><use href="#bc" x="593" y="127"/>
<use href="#bc" x="428" y="146"/><use href="#bc" x="446" y="143"/><use href="#bc" x="463" y="147"/><use href="#bc" x="480" y="144"/><use href="#bc" x="497" y="142"/><use href="#bc" x="514" y="147"/><use href="#bc" x="531" y="144"/><use href="#bc" x="548" y="142"/><use href="#bc" x="565" y="146"/><use href="#bc" x="582" y="143"/>
<use href="#bc" x="422" y="161"/><use href="#bc" x="438" y="162"/><use href="#bc" x="455" y="162"/><use href="#bc" x="472" y="159"/><use href="#bc" x="489" y="157"/><use href="#bc" x="506" y="162"/><use href="#bc" x="523" y="159"/><use href="#bc" x="540" y="157"/><use href="#bc" x="557" y="161"/><use href="#bc" x="574" y="158"/><use href="#bc" x="591" y="157"/>
<use href="#bc" x="428" y="176"/><use href="#bc" x="446" y="173"/><use href="#bc" x="463" y="177"/><use href="#bc" x="480" y="174"/><use href="#bc" x="497" y="172"/><use href="#bc" x="514" y="177"/><use href="#bc" x="531" y="174"/><use href="#bc" x="548" y="172"/><use href="#bc" x="565" y="176"/><use href="#bc" x="582" y="173"/><use href="#bc" x="599" y="172"/>
<use href="#bc" x="420" y="191"/><use href="#bc" x="438" y="192"/><use href="#bc" x="455" y="192"/><use href="#bc" x="472" y="189"/><use href="#bc" x="489" y="187"/><use href="#bc" x="506" y="192"/><use href="#bc" x="523" y="189"/><use href="#bc" x="540" y="187"/><use href="#bc" x="557" y="191"/><use href="#bc" x="574" y="188"/><use href="#bc" x="588" y="186"/>
<use href="#bc" x="428" y="206"/><use href="#bc" x="446" y="203"/><use href="#bc" x="463" y="207"/><use href="#bc" x="480" y="204"/><use href="#bc" x="497" y="202"/><use href="#bc" x="514" y="207"/><use href="#bc" x="531" y="204"/><use href="#bc" x="548" y="202"/><use href="#bc" x="565" y="206"/><use href="#bc" x="580" y="203"/>
<use href="#bc" x="422" y="221"/><use href="#bc" x="438" y="225"/><use href="#bc" x="455" y="222"/><use href="#bc" x="472" y="219"/><use href="#bc" x="489" y="217"/><use href="#bc" x="506" y="222"/><use href="#bc" x="523" y="219"/><use href="#bc" x="540" y="217"/><use href="#bc" x="557" y="221"/><use href="#bc" x="577" y="216"/>
<use href="#bc" x="428" y="236"/><use href="#bc" x="440" y="244"/><use href="#bc" x="455" y="237"/><use href="#bc" x="472" y="234"/><use href="#bc" x="489" y="232"/><use href="#bc" x="506" y="237"/><use href="#bc" x="523" y="234"/><use href="#bc" x="540" y="232"/><use href="#bc" x="557" y="236"/><use href="#bc" x="574" y="231"/>
<use href="#bc" x="452" y="254"/><use href="#bc" x="466" y="251"/><use href="#bc" x="480" y="249"/><use href="#bc" x="495" y="247"/><use href="#bc" x="512" y="252"/><use href="#bc" x="529" y="249"/><use href="#bc" x="545" y="252"/><use href="#bc" x="565" y="253"/>
<use href="#bc" x="450" y="268"/><use href="#bc" x="477" y="266"/><use href="#bc" x="491" y="267"/><use href="#bc" x="505" y="268"/><use href="#bc" x="525" y="262"/><use href="#bc" x="537" y="273"/>
<use href="#bc" x="460" y="281"/><use href="#bc" x="485" y="282"/><use href="#bc" x="510" y="281"/>
</g>
<g id="TCONS_00120837"><use href="#dm" x="111" y="38"/><text class="l" x="111" y="40">TCONS_00120837</text></g>
<g id="TCONS_00078552"><use href="#dm" x="170" y="47"/><text class="l" x="170" y="49">TCONS_00078552</text></g>
<g id="TCONS_00190987"><use href="#dm" x="213" y="41"/><text class="l" x="213" y="43">TCONS_00190987</text></g>
<g id="TCONS_00021001"><use href="#dm" x="83" y="55"/><text class="l" x="83" y="57">TCONS_00021001</text></g>
<g id="TCONS_00164823"><use href="#dm" x="128" y="65"/><text class="l" x="128" y="67">TCONS_00164823</text></g>
<g id="TCONS_00147488"><use href="#dm" x="55" y="77"/><text class="l" x="55" y="79">TCONS_00147488</text></g>
<g id="TCONS_00185589"><use href="#dm" x="97" y="87"/><text class="l" x="97" y="89">TCONS_00185589</text></g>
<g id="TCONS_00181774"><use href="#dm" x="38" y="102"/><text class="l" x="38" y="104">TCONS_00181774</text></g>
<g id="TCONS_00071514"><use href="#dm" x="86" y="112"/><text class="l" x="86" y="114">TCONS_00071514</text></g>
<g id="TCONS_00161680"><use href="#dm" x="28" y="137"/><text class="l" x="28" y="139">TCONS_00161680</text></g>
<g id="TCONS_00001243"><use href="#dm" x="73" y="132"/><text class="l" x="73" y="134">TCONS_00001243</text></g>
<g id="TCONS_00099043"><use href="#dm" x="68" y="157"/><text class="l" x="68" y="159">TCONS_00099043</text></g>
<g id="TCONS_00049396"><use href="#dm" x="30" y="163"/><text class="l" x="30" y="165">TCONS_00049396</text></g>
<g id="TCONS_00057245"><use href="#dm" x="63" y="183"/><text class="l" x="63" y="185">TCONS_00057245</text></g>
<g id="TCONS_00054464"><use href="#dm" x="29" y="190"/><text class="l" x="29" y="192">TCONS_00054464</text></g>
<g id="TCONS_00126209"><use href="#dm" x="72" y="200"/><text class="l" x="72" y="202">TCONS_00126209</text></g>
<g id="TCONS_00046445"><use href="#dm" x="29" y="212"/><text class="l" x="29" y="214">TCONS_00046445</text></g>
<g id="TCONS_00152721"><use href="#dm" x="72" y="218"/><text class="l" x="72" y="220">TCONS_00152721</text></g>
<g id="TCONS_00147850"><use href="#dm" x="33" y="235"/><text class="l" x="33" y="237">TCONS_00147850</text></g>
<g id="TCONS_00143782"><use href="#dm" x="86" y="243"/><text class="l" x="86" y="245">TCONS_00143782</text></g>
<g id="TCONS_00158566"><use href="#dm" x="43" y="260"/><text class="l" x="43" y="262">TCONS_00158566</text></g>
<g id="TCONS_00167062"><use href="#dm" x="96" y="259"/><text class="l" x="96" y="261">TCONS_00167062</text></g>
<g id="TCONS_00136347"><use href="#dm" x="112" y="275"/><text class="l" x="112" y="277">TCONS_00136347</text></g>
<g id="TCONS_00003306"><use href="#dm" x="61" y="285"/><text class="l" x="61" y="287">TCONS_00003306</text></g>
<g id="TCONS_00048262"><use href="#dm" x="135" y="287"/><text class="l" x="135" y="289">TCONS_00048262</text></g>
<g id="TCONS_00161541"><use href="#dm" x="168" y="295"/><text class="l" x="168" y="297">TCONS_00161541</text></g>
<g id="TCONS_00001430"><use href="#dm" x="83" y="299"/><text class="l" x="83" y="301">TCONS_00001430</text></g>
<g id="TCONS_00071992"><use href="#dm" x="197" y="302"/><text class="l" x="197" y="304">TCONS_00071992</text></g>
<g id="TCONS_00055908"><use href="#dm" x="110" y="310"/><text class="l" x="110" y="312">TCONS_00055908</text></g>
<g id="TCONS_00017898"><use href="#dm" x="139" y="318"/><text class="l" x="139" y="320">TCONS_00017898</text></g>
<g id="TCONS_00118667"><use href="#dm" x="162" y="327"/><text class="l" x="162" y="329">TCONS_00118667</text></g>
<g id="TCONS_00088181"><use href="#dm" x="203" y="333"/><text class="l" x="203" y="335">TCONS_00088181</text></g>
<g id="TCONS_00098158"><use href="#dm" x="228" y="309"/><text class="l" x="228" y="311">TCONS_00098158</text></g>
<g id="TCONS_00116896"><use href="#dm" x="270" y="314"/><text class="l" x="270" y="316">TCONS_00116896</text></g>
<g id="ssa-miR-128-3-5p"><use href="#tr" x="317" y="26"/><text class="l" x="317" y="28">ssa-miR-128-3-5p</text></g>
<g id="oni-miR-10671"><use href="#tr" x="343" y="42"/><text class="l" x="343" y="44">oni-miR-10671</text></g>
<g id="ssa-miR-7a-2-3p"><use href="#tr" x="318" y="55"/><text class="l" x="318" y="57">ssa-miR-7a-2-3p</text></g>
<g id="ipu-miR-19a"><use href="#tr" x="346" y="72"/><text class="l" x="346" y="74">ipu-miR-19a</text></g>
<g id="dre-miR-730"><use href="#tr" x="320" y="88"/><text class="l" x="320" y="90">dre-miR-730</text></g>
<g id="gmo-miR-187-5p"><use href="#tr" x="377" y="82"/><text class="l" x="377" y="84">gmo-miR-187-5p</text></g>
<g id="ipu-miR-205"><use href="#tr" x="344" y="106"/><text class="l" x="344" y="108">ipu-miR-205</text></g>
<g id="oni-miR-10744"><use href="#tr" x="380" y="120"/><text class="l" x="380" y="122">oni-miR-10744</text></g>
<g id="tni-miR-22a"><use href="#tr" x="323" y="122"/><text class="l" x="323" y="124">tni-miR-22a</text></g>
<g id="gmo-miR-459-3p"><use href="#tr" x="348" y="140"/><text class="l" x="348" y="142">gmo-miR-459-3p</text></g>
<g id="nbr-miR-7-23-3p"><use href="#tr" x="321" y="155"/><text class="l" x="321" y="157">nbr-miR-7-23-3p</text></g>
<g id="tni-miR-128"><use href="#tr" x="386" y="153"/><text class="l" x="386" y="155">tni-miR-128</text></g>
<g id="oni-miR-728b"><use href="#tr" x="348" y="169"/><text class="l" x="348" y="171">oni-miR-728b</text></g>
<g id="oni-miR-10698"><use href="#tr" x="325" y="187"/><text class="l" x="325" y="189">oni-miR-10698</text></g>
<g id="dre-miR-152"><use href="#tr" x="348" y="203"/><text class="l" x="348" y="205">dre-miR-152</text></g>
<g id="oni-miR-10726"><use href="#tr" x="397" y="198"/><text class="l" x="397" y="200">oni-miR-10726</text></g>
<g id="ssa-miR-301b-5p"><use href="#tr" x="330" y="222"/><text class="l" x="330" y="224">ssa-miR-301b-5p</text></g>
<g id="oni-miR-10580"><use href="#tr" x="352" y="240"/><text class="l" x="352" y="242">oni-miR-10580</text></g>
<g id="tni-miR-218b"><use href="#tr" x="393" y="237"/><text class="l" x="393" y="239">tni-miR-218b</text></g>
<g id="ssa-miR-93a-3p"><use href="#tr" x="330" y="257"/><text class="l" x="330" y="259">ssa-miR-93a-3p</text></g>
<g id="ssa-miR-146a-3p"><use href="#tr" x="355" y="272"/><text class="l" x="355" y="274">ssa-miR-146a-3p</text></g>
<g id="oni-miR-10626"><use href="#tr" x="400" y="277"/><text class="l" x="400" y="279">oni-miR-10626</text></g>
<g id="oni-miR-10632"><use href="#tr" x="330" y="293"/><text class="l" x="330" y="295">oni-miR-10632</text></g>
<g id="eel-miR-7132-3p"><use href="#tr" x="354" y="312"/><text class="l" x="354" y="314">eel-miR-7132-3p</text></g>
<g id="aau-miR-10556b"><use href="#tr" x="330" y="326"/><text class="l" x="330" y="328">aau-miR-10556b</text></g>
<g id="dre-miR-128-3-5p"><use href="#tr" x="355" y="342"/><text class="l" x="355" y="344">dre-miR-128-3-5p</text></g>
<g id="TCONS_00004829"><use href="#dm" x="409" y="24"/><text class="l" x="409" y="26">TCONS_00004829</text></g>
<g id="TCONS_00061156"><use href="#dm" x="452" y="15"/><text class="l" x="454" y="17">TCONS_00061156</text></g>
<g id="TCONS_00114739"><use href="#dm" x="494" y="10"/><text class="l" x="494" y="12">TCONS_00114739</text></g>
<g id="TCONS_00088411"><use href="#dm" x="528" y="19"/><text class="l" x="530" y="21">TCONS_00088411</text></g>
<g id="TCONS_00026911"><use href="#dm" x="562" y="29"/><text class="l" x="564" y="31">TCONS_00026911</text></g>
<g id="TCONS_00021057"><use href="#dm" x="590" y="41"/><text class="l" x="592" y="43">TCONS_00021057</text></g>
<g id="TCONS_00193118"><use href="#dm" x="606" y="58"/><text class="l" x="607" y="60">TCONS_00193118</text></g>
<g id="TCONS_00062377"><use href="#dm" x="618" y="86"/><text class="l" x="620" y="88">TCONS_00062377</text></g>
<g id="TCONS_00061939"><use href="#dm" x="635" y="118"/><text class="l" x="633" y="120">TCONS_00061939</text></g>
<g id="TCONS_00075227"><use href="#dm" x="635" y="152"/><text class="l" x="637" y="154">TCONS_00075227</text></g>
<g id="TCONS_00023425"><use href="#dm" x="637" y="187"/><text class="l" x="637" y="189">TCONS_00023425</text></g>
<g id="TCONS_00067121"><use href="#dm" x="625" y="217"/><text class="l" x="625" y="219">TCONS_00067121</text></g>
<g id="TCONS_00168341"><use href="#dm" x="609" y="253"/><text class="l" x="609" y="255">TCONS_00168341</text></g>
<g id="TCONS_00000696"><use href="#dm" x="587" y="275"/><text class="l" x="587" y="277">TCONS_00000696</text></g>
<g id="TCONS_00198343"><use href="#dm" x="563" y="297"/><text class="l" x="563" y="299">TCONS_00198343</text></g>
<g id="TCONS_00049730"><use href="#dm" x="533" y="307"/><text class="l" x="533" y="309">TCONS_00049730</text></g>
<g id="TCONS_00044145"><use href="#dm" x="487" y="312"/><text class="l" x="487" y="314">TCONS_00044145</text></g>
<g id="TCONS_00109481"><use href="#dm" x="445" y="307"/><text class="l" x="445" y="309">TCONS_00109481</text></g>
</svg>
